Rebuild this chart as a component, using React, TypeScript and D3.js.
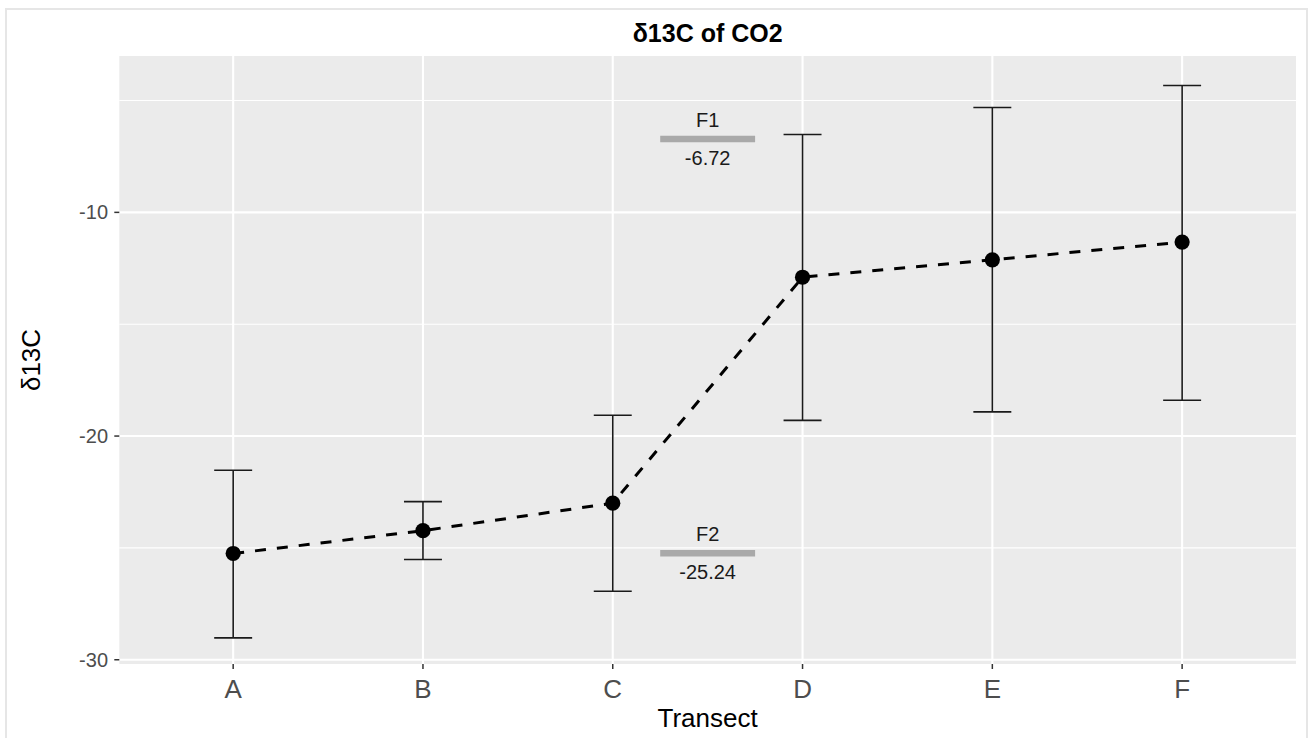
import * as d3 from 'd3';

const categories = ['A', 'B', 'C', 'D', 'E', 'F'];
const means = [-25.25, -24.23, -23.0, -12.9, -12.12, -11.33];
const upper = [-21.53, -22.93, -19.07, -6.52, -5.31, -4.33];
const lower = [-29.02, -25.52, -26.94, -19.3, -18.92, -18.4];

const yTicks = [-30, -20, -10];
const yMinor = [-25, -15, -5];

const refLabels = ['F1', 'F2'];
const refValues = [-6.72, -25.24];
const refPos = 3.5; // between C and D

const W = 1309;
const H = 738;
const panel = { left: 119.3, right: 1296, top: 56, bottom: 664 };
const font = '"Liberation Sans", Arial, sans-serif';

const App = () => {
  const x = d3.scaleLinear().domain([0.4, 6.6]).range([panel.left, panel.right]);
  const y = d3.scaleLinear().domain([-30.19, -3.01]).range([panel.bottom, panel.top]);

  const pts = means.map((m, i) => ({ i: i + 1, m }));
  const line = d3.line<{ i: number; m: number }>()
    .x(d => x(d.i))
    .y(d => y(d.m));

  const capHalf = (x(1.1) - x(1));
  const midX = (panel.left + panel.right) / 2;
  const midY = (panel.top + panel.bottom) / 2;

  return (
    <svg width={W} height={H} style={{ position: 'absolute', left: 0, top: 0 }} fontFamily={font}>
      <rect x={0} y={0} width={W} height={H} fill="#fff" />
      <rect x={6} y={9} width={1301} height={740} fill="none" stroke="#e6e6e6" strokeWidth={2} />

      {/* panel */}
      <rect x={panel.left} y={panel.top} width={panel.right - panel.left} height={panel.bottom - panel.top} fill="#ebebeb" />
      {yMinor.map(v => (
        <line key={'mn' + v} x1={panel.left} x2={panel.right} y1={y(v)} y2={y(v)} stroke="#fff" strokeWidth={1.1} />
      ))}
      {yTicks.map(v => (
        <line key={'mj' + v} x1={panel.left} x2={panel.right} y1={y(v)} y2={y(v)} stroke="#fff" strokeWidth={2.1} />
      ))}
      {categories.map((c, i) => (
        <line key={'vx' + c} x1={x(i + 1)} x2={x(i + 1)} y1={panel.top} y2={panel.bottom} stroke="#fff" strokeWidth={2.1} />
      ))}

      {/* reference annotations */}
      {refLabels.map((lab, k) => (
        <g key={lab}>
          <line x1={x(refPos - 0.25)} x2={x(refPos + 0.25)} y1={y(refValues[k])} y2={y(refValues[k])}
            stroke="#a9a9a9" strokeWidth={6.5} />
          <text x={x(refPos)} y={y(refValues[k]) - 12} textAnchor="middle" fontSize={20} fill="#1a1a1a">{lab}</text>
          <text x={x(refPos)} y={y(refValues[k]) + 26} textAnchor="middle" fontSize={20} fill="#1a1a1a">{refValues[k].toFixed(2)}</text>
        </g>
      ))}

      {/* error bars */}
      {categories.map((c, i) => {
        const cx = x(i + 1);
        return (
          <g key={'eb' + c} stroke="#1a1a1a" strokeWidth={1.6}>
            <line x1={cx} x2={cx} y1={y(upper[i])} y2={y(lower[i])} />
            <line x1={cx - capHalf} x2={cx + capHalf} y1={y(upper[i])} y2={y(upper[i])} />
            <line x1={cx - capHalf} x2={cx + capHalf} y1={y(lower[i])} y2={y(lower[i])} />
          </g>
        );
      })}

      <path d={line(pts) || ''} fill="none" stroke="#000" strokeWidth={3} strokeDasharray="11,11" />
      {pts.map(d => (
        <circle key={'pt' + d.i} cx={x(d.i)} cy={y(d.m)} r={7.6} fill="#000" />
      ))}

      {/* y axis */}
      {yTicks.map(v => (
        <g key={'yt' + v}>
          <line x1={panel.left - 5} x2={panel.left} y1={y(v)} y2={y(v)} stroke="#333" strokeWidth={1.5} />
          <text x={108} y={y(v)} dy="0.35em" textAnchor="end" fontSize={20} fill="#4d4d4d">{v}</text>
        </g>
      ))}

      {/* x axis */}
      {categories.map((c, i) => (
        <g key={'xt' + c}>
          <line x1={x(i + 1)} x2={x(i + 1)} y1={panel.bottom} y2={panel.bottom + 5} stroke="#333" strokeWidth={1.5} />
          <text x={x(i + 1)} y={698} textAnchor="middle" fontSize={26} fill="#4d4d4d">{c}</text>
        </g>
      ))}

      {/* titles */}
      <text x={midX} y={41.5} textAnchor="middle" fontSize={25} fontWeight="bold" fill="#000">δ13C of CO2</text>
      <text x={midX} y={727} textAnchor="middle" fontSize={26} fill="#000">Transect</text>
      <text transform={`translate(40,${midY}) rotate(-90)`} textAnchor="middle" fontSize={26} fill="#000">δ13C</text>
    </svg>
  );
};

export default App;
